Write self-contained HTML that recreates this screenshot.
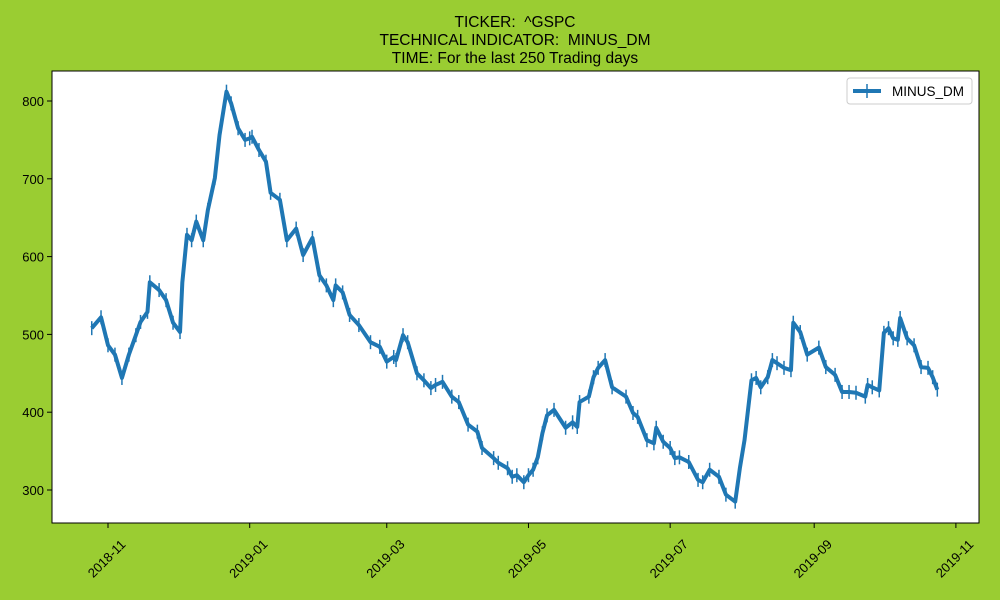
<!DOCTYPE html>
<html><head><meta charset="utf-8"><style>
body{margin:0;background:#9acd32;}
svg{display:block;font-family:"Liberation Sans","DejaVu Sans",sans-serif;}
</style></head><body>
<svg id="chart" width="1000" height="600">
<rect x="0" y="0" width="1000" height="600" fill="#9acd32"/>
<g font-size="15.5" text-anchor="middle" fill="#000">
<text x="515" y="27">TICKER: &#160;^GSPC</text>
<text x="515" y="45">TECHNICAL INDICATOR: &#160;MINUS_DM</text>
<text x="515" y="63">TIME: For the last 250 Trading days</text>
</g>
<rect x="52" y="71" width="927" height="452" fill="#fff" stroke="#000" stroke-width="1"/>
<g id="yaxis"></g>
<g id="xaxis"></g>
<g id="series"></g>
<g>
<rect x="847" y="78" width="125" height="26" fill="#fff" stroke="#ccc" rx="3"/>
<line x1="853" y1="91" x2="881" y2="91" stroke="#1f77b4" stroke-width="4"/>
<line x1="867" y1="84" x2="867" y2="98" stroke="#1f77b4" stroke-width="1.5"/>
<text x="892" y="96" font-size="13.5">MINUS_DM</text>
</g>
</svg>
<script>
// days since 2018-11-01
const days=[-7,-3,0,3,6,9,12,14,17,18,22,25,28,31,32,34,36,38,41,43,46,48,51,53,56,59,61,62,65,68,70,74,77,81,84,88,91,94,97,98,101,104,108,113,117,120,123,124,127,129,133,136,139,141,144,148,151,155,159,161,166,168,172,174,176,179,181,183,185,187,189,192,197,200,202,203,207,209,211,214,217,223,226,228,232,235,236,239,242,244,246,250,254,256,259,263,266,270,272,274,277,279,281,284,286,288,291,294,295,298,301,306,309,313,316,319,322,326,327,329,332,334,336,338,340,341,344,347,350,353,355,357];
const values=[508,522,486,474,444,474,499,516,529,567,557,544,515,503,567,628,621,645,621,660,701,756,812,797,765,750,752,754,737,722,682,673,621,636,602,624,576,563,544,563,554,525,512,490,484,465,471,467,499,490,450,441,431,435,439,420,413,384,375,354,341,335,328,317,319,310,319,326,342,373,396,403,380,387,381,413,420,445,457,467,432,420,399,394,364,360,380,362,354,341,342,336,313,310,326,317,294,285,328,364,441,444,432,445,467,463,457,454,515,503,474,483,458,448,426,426,425,420,435,432,428,502,508,495,493,521,495,486,458,457,445,429];
const yTicks=[300,400,500,600,700,800];
const xTickDays=[0,61,120,181,242,304,365];
const xTickLabels=["2018-11","2019-01","2019-03","2019-05","2019-07","2019-09","2019-11"];
const NS="http://www.w3.org/2000/svg";
const X=d=>108+d*2.323;
const Y=v=>490-(v-300)*0.778;
function mk(tag,attrs,parent){const e=document.createElementNS(NS,tag);for(const k in attrs)e.setAttribute(k,attrs[k]);parent.appendChild(e);return e;}
const ya=document.getElementById('yaxis');
yTicks.forEach(t=>{
  const l=mk('line',{x1:47,x2:52,y1:Y(t),y2:Y(t),stroke:'#000'},ya);
  
  
  const tx=mk('text',{x:44,y:Y(t)+5,'font-size':13,'text-anchor':'end'},ya);
  tx.textContent=t;
  
  
});
const xa=document.getElementById('xaxis');
xTickDays.forEach((d,i)=>{
  const x=X(d);
  const l=mk('line',{x1:x,x2:x,y1:523,y2:528,stroke:'#000'},xa);
  
  
  const cy=559;
  const tx=mk('text',{x:x-1,y:cy+4,'font-size':13,'text-anchor':'middle',transform:`rotate(-45 ${x-1} ${cy})`},xa);
  tx.textContent=xTickLabels[i];
  
  
});
const s=document.getElementById('series');
days.forEach((d,i)=>{
  const l=mk('line',{x1:X(d),x2:X(d),y1:Y(values[i]+9),y2:Y(values[i]-9),stroke:'#1f77b4','stroke-width':1.5},s);
  
  
});
const p=mk('polyline',{points:days.map((d,i)=>X(d)+','+Y(values[i])).join(' '),fill:'none',stroke:'#1f77b4','stroke-width':4,'stroke-linejoin':'round'},s);


</script>
</body></html>
